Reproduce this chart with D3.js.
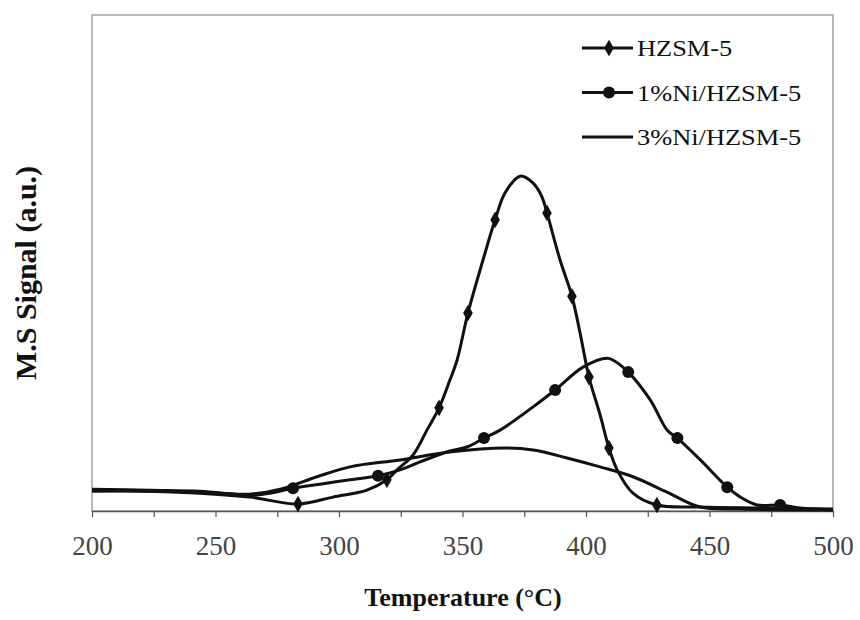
<!DOCTYPE html>
<html>
<head>
<meta charset="utf-8">
<script src="https://cdn.jsdelivr.net/npm/d3@7"></script>
<style>
  body { margin: 0; background: #fff; }
  svg { display: block; }
</style>
</head>
<body>
<svg width="860" height="620"></svg>
<script>
let width = 860,
    height = 620;

// HZSM-5
let hzsmT = [200, 223.5, 243.7, 264, 283.4, 297.6, 311.3, 319.4, 323.5, 330, 335.6, 340.5, 344.9, 347.8,
    352.2, 358.3, 363.2, 367.2, 373.3, 378.6, 382.2, 384.2, 389.5, 394.3, 397.6, 401.2, 405.7, 409.3,
    412.6, 419, 428.7, 446.2, 470.4, 500];
let hzsmS = [4.2, 4.0, 3.6, 2.8, 1.4, 2.8, 4.2, 6.3, 8.3, 11.3, 16.3, 20.8, 26.4, 30.4,
    39.9, 50.6, 58.7, 64.1, 67.5, 66.1, 63.3, 60.1, 50.6, 43.3, 35.9, 27.0, 19.4, 12.7,
    8.3, 3.6, 1.2, 0.8, 0.6, 0.4];
let hzsmMarkT = [283.4, 319.4, 340.5, 352.2, 363.2, 384.2, 394.3, 401.2, 409.3, 428.7];
let hzsmMarkS = [1.4, 6.3, 20.8, 39.9, 58.7, 60.1, 43.3, 27.0, 12.7, 1.2];

// 1%Ni/HZSM-5
let ni1T = [200, 223.5, 243.7, 264, 272.1, 281.4, 292.3, 304.5, 315.8, 324.7, 332.8, 344.9, 351.8,
    358.7, 365.2, 378.6, 387.5, 398.8, 408.6, 411, 417.1, 426, 432.9, 437, 446.3, 457.2, 462.5,
    469.3, 478.6, 486.7, 500];
let ni1S = [4.4, 4.2, 4.0, 3.2, 3.6, 4.6, 5.4, 6.3, 7.1, 8.3, 9.9, 12.1, 12.9,
    14.7, 16.3, 21.0, 24.4, 29.0, 30.8, 30.4, 28.0, 22.4, 16.3, 14.7, 10.3, 4.8, 2.8,
    1.2, 1.2, 0.6, 0.2];
let ni1MarkT = [281.4, 315.8, 358.7, 387.5, 417.1, 437, 457.2, 478.6];
let ni1MarkS = [4.6, 7.1, 14.7, 24.4, 28.0, 14.7, 4.8, 1.2];

// 3%Ni/HZSM-5
let ni3T = [200, 223.5, 243.7, 264, 276.2, 291.1, 304.5, 324.7, 344.9, 367.2, 378.6, 392.3, 405.7,
    419, 432.8, 446.2, 462.4, 500];
let ni3S = [4.0, 4.0, 3.8, 3.4, 4.4, 6.9, 8.9, 10.3, 11.9, 12.7, 12.3, 10.7, 8.9,
    6.9, 3.8, 0.8, 0.4, 0.2];

let seriesNames = ["HZSM-5", "1%Ni/HZSM-5", "3%Ni/HZSM-5"];
let xTicks = [200, 225, 250, 275, 300, 325, 350, 375, 400, 425, 450, 475, 500];
let xLabels = [200, 250, 300, 350, 400, 450, 500];

let margin = { left: 92, right: 27, top: 15, bottom: 109 };

let svg = d3.select("svg").attr("viewBox", "0 0 " + width + " " + height);

let x = d3.scaleLinear().domain([200, 500]).range([margin.left, width - margin.right]);
let y = d3.scaleLinear().domain([0, 100]).range([height - margin.bottom, margin.top]);

// plot frame
svg.append("rect")
    .attr("x", margin.left)
    .attr("y", margin.top)
    .attr("width", x(500) - x(200))
    .attr("height", y(0) - y(100))
    .attr("fill", "none")
    .attr("stroke", "#8a8a8a")
    .attr("stroke-width", 1.2);

// bottom axis
let xAxis = svg.append("g")
    .attr("transform", `translate(0, ${y(0)})`)
    .call(d3.axisBottom(x).tickValues(xTicks).tickSize(6).tickSizeOuter(0)
        .tickFormat((d) => (xLabels.includes(d) ? d : "")));
xAxis.select(".domain").attr("stroke", "#555").attr("stroke-width", 1.5);
xAxis.selectAll(".tick line").attr("stroke", "#555").attr("stroke-width", 1.2);
xAxis.selectAll(".tick text")
    .style("font-family", "'Liberation Serif', serif")
    .style("font-size", "27px")
    .attr("fill", "#444")
    .attr("y", 44)
    .attr("dy", 0);

let line = d3.line()
    .x((d) => x(d[0]))
    .y((d) => y(d[1]))
    .curve(d3.curveCatmullRom.alpha(0.5));

function pairs(ts, ss) {
    return ts.map((t, i) => [t, ss[i]]);
}

let lines = [pairs(hzsmT, hzsmS), pairs(ni1T, ni1S), pairs(ni3T, ni3S)];

svg.append("g")
    .selectAll("path")
    .data(lines)
    .enter()
    .append("path")
    .attr("d", line)
    .attr("fill", "none")
    .attr("stroke", "#111")
    .attr("stroke-width", 3)
    .attr("stroke-linejoin", "round");

let diamond = d3.symbol().type(d3.symbolDiamond).size(80);

svg.append("g")
    .selectAll("path")
    .data(pairs(hzsmMarkT, hzsmMarkS))
    .enter()
    .append("path")
    .attr("d", diamond)
    .attr("transform", (d) => `translate(${x(d[0])}, ${y(d[1])})`)
    .attr("fill", "#111");

svg.append("g")
    .selectAll("circle")
    .data(pairs(ni1MarkT, ni1MarkS))
    .enter()
    .append("circle")
    .attr("cx", (d) => x(d[0]))
    .attr("cy", (d) => y(d[1]))
    .attr("r", 6)
    .attr("fill", "#111");

// legend
let legend = svg.append("g").attr("transform", "translate(582, 48)");
seriesNames.forEach((name, i) => {
    let g = legend.append("g").attr("transform", `translate(0, ${i * 44.5})`);
    g.append("line")
        .attr("x1", 0).attr("x2", 51)
        .attr("y1", 0).attr("y2", 0)
        .attr("stroke", "#111")
        .attr("stroke-width", 3);
    if (i == 0) {
        g.append("path").attr("d", diamond).attr("transform", "translate(27, 0)").attr("fill", "#111");
    } else if (i == 1) {
        g.append("circle").attr("cx", 27).attr("cy", 0).attr("r", 6).attr("fill", "#111");
    }
    g.append("text")
        .attr("transform", "translate(55, 8) scale(1.1, 1)")
        .style("font-family", "'Liberation Serif', serif")
        .style("font-size", "24px")
        .attr("fill", "#111")
        .text(name);
});

// axis titles
svg.append("text")
    .attr("x", 463)
    .attr("y", 606)
    .attr("text-anchor", "middle")
    .style("font-family", "'Liberation Serif', serif")
    .style("font-weight", "bold")
    .style("font-size", "26px")
    .attr("fill", "#111")
    .text("Temperature (°C)");

svg.append("text")
    .attr("transform", "translate(36, 273) rotate(-90)")
    .attr("text-anchor", "middle")
    .style("font-family", "'Liberation Serif', serif")
    .style("font-weight", "bold")
    .style("font-size", "30px")
    .attr("fill", "#111")
    .text("M.S Signal (a.u.)");
</script>
</body>
</html>
